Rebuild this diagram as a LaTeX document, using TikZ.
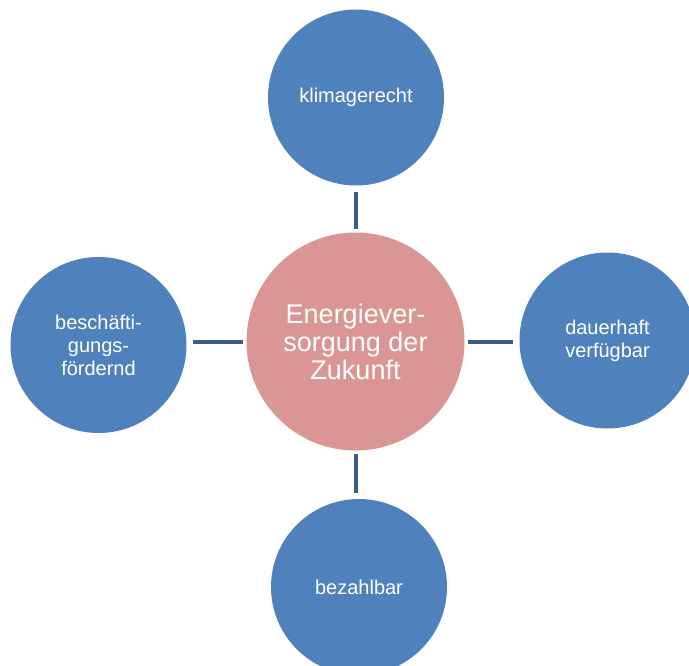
\documentclass[tikz,border=0pt]{standalone}
\usepackage{fontspec}
\setmainfont{Liberation Sans}
\definecolor{outerblue}{HTML}{4F81BD}
\definecolor{centerpink}{HTML}{D99694}
\definecolor{linkblue}{HTML}{385D8A}
\tikzset{
  outer/.style={circle, fill=outerblue, text=white, inner sep=0pt, minimum size=176bp, align=center, font=\fontsize{20bp}{23bp}\selectfont},
  core/.style={circle, fill=centerpink, text=white, inner sep=0pt, minimum size=218bp, align=center, font=\fontsize{27bp}{28bp}\selectfont},
  link/.style={draw=linkblue, line width=4bp, shorten <=3bp, shorten >=6bp}
}
\begin{document}
\begin{tikzpicture}[x=1bp,y=-1bp]
\useasboundingbox (0,0) rectangle (689,666);
\node[core] (c) at (355.5,341.5) {Energiever-\\sorgung der\\Zukunft};
\node[outer] (t) at (356,97.5) {klimagerecht};
\node[outer] (l) at (98.5,345) {beschäfti-\\gungs-\\fördernd};
\node[outer] (r) at (607.5,340.5) {dauerhaft\\verfügbar};
\node[outer] (b) at (359,587) {bezahlbar};
\draw[link] (c.north) -- (c.north |- t.south);
\draw[link] (c.west) -- (c.west -| l.east);
\draw[link] (c.east) -- (c.east -| r.west);
\draw[link] (c.south) -- (c.south |- b.north);
\end{tikzpicture}
\end{document}
